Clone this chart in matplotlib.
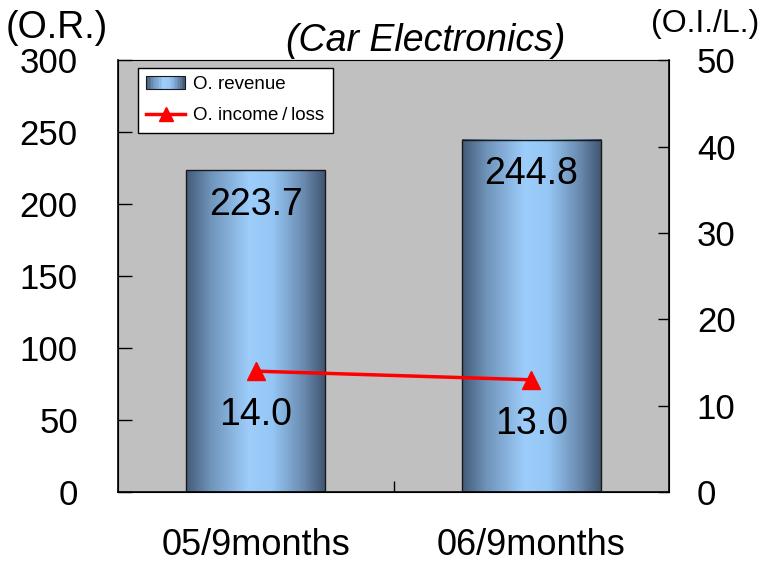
import matplotlib.pyplot as plt
import numpy as np
from matplotlib.colors import LinearSegmentedColormap
from matplotlib.patches import Rectangle
from matplotlib.lines import Line2D
from matplotlib.legend_handler import HandlerBase

# data
periods = ['05/9months', '06/9months']
revenue = [223.7, 244.8]
income = [14.0, 13.0]

plt.rcParams['font.family'] = ['Liberation Sans', 'DejaVu Sans']

# steel-blue shading used across each bar
shade = LinearSegmentedColormap.from_list('steel', [
    (0.0, '#435b78'), (0.18, '#7095bb'), (0.45, '#9dcdfb'),
    (0.62, '#95c6f4'), (0.85, '#6888ad'), (1.0, '#3f546f')])


class ShadedBarHandler(HandlerBase):
    def create_artists(self, legend, orig_handle, xdescent, ydescent,
                       width, height, fontsize, trans):
        n = 24
        arts = []
        for i in range(n):
            r = Rectangle((-xdescent + width * i / n, -ydescent), width / n + 0.3,
                          height, facecolor=shade((i + 0.5) / n), edgecolor='none',
                          transform=trans)
            arts.append(r)
        arts.append(Rectangle((-xdescent, -ydescent), width, height,
                              facecolor='none', edgecolor='#1a1a1a', lw=0.8,
                              transform=trans))
        return arts


fig = plt.figure(figsize=(7.62, 5.63), dpi=100)
ax = fig.add_axes([0.155, 0.126, 0.723, 0.767])
ax.set_facecolor('#c0c0c0')

x = np.arange(len(periods))
bars = ax.bar(x, revenue, width=0.505, facecolor='none', edgecolor='#1a1a1a',
              linewidth=1.0, zorder=3)
grad = np.linspace(0, 1, 256).reshape(1, -1)
for b in bars:
    x0, y0 = b.get_x(), b.get_y()
    ax.imshow(grad, cmap=shade, aspect='auto', zorder=2,
              extent=[x0, x0 + b.get_width(), y0, y0 + b.get_height()])

ax.set_xlim(-0.5, 1.5)
ax.set_ylim(0, 300)
ax.set_yticks(range(0, 301, 50))
ax.set_xticks(x)
ax.set_xticklabels(periods, fontsize=26)
ax.set_xticks([0.5], minor=True)
ax.tick_params(axis='x', which='major', length=0, pad=26)
ax.tick_params(axis='x', which='minor', direction='in', length=8, width=1)
ax.tick_params(axis='y', direction='in', length=10, width=1, labelsize=25, pad=29)
for lbl in ax.get_yticklabels():
    lbl.set_horizontalalignment('right')
ax.spines['top'].set_color('#a0a0a0')
for s in ['left', 'bottom', 'right']:
    ax.spines[s].set_linewidth(1.2)

for xi, v in zip(x, revenue):
    ax.annotate(f'{v:.1f}', (xi, v), xytext=(0, -25), textcoords='offset points',
                ha='center', va='center', fontsize=27, zorder=5)

ax2 = ax.twinx()
ax2.set_ylim(0, 50)
ax2.set_yticks(range(0, 51, 10))
ax2.tick_params(axis='y', direction='in', length=8, width=1, labelsize=25, pad=20)
ax2.plot(x, income, color='#ff0000', linewidth=2.5, marker='^', markersize=13,
         zorder=4)
for xi, v in zip(x, income):
    ax2.annotate(f'{v:.1f}', (xi, v), xytext=(0, -31.5), textcoords='offset points',
                 ha='center', va='center', fontsize=27)

fig.text(0.007, 0.95, '(O.R.)', ha='left', va='center', fontsize=27)
fig.text(0.997, 0.958, '(O.I./L.)', ha='right', va='center', fontsize=23)
fig.text(0.558, 0.9275, '(Car Electronics)', ha='center', va='center',
         fontsize=27, style='italic')

# legend: shaded bar swatch and the income line
h_bar = Rectangle((0, 0), 1, 1)
h_line = Line2D([], [], color='#ff0000', linewidth=2.5, marker='^', markersize=10)
leg = ax2.legend([h_bar, h_line], ['O. revenue', 'O. income\u2009/\u2009loss'],
                 handler_map={Rectangle: ShadedBarHandler()},
                 loc='upper left', bbox_to_anchor=(0.036, 0.983), fontsize=13.5,
                 frameon=True, fancybox=False, edgecolor='black',
                 framealpha=1, handlelength=2.05, handletextpad=0.45,
                 borderpad=0.45, borderaxespad=0, labelspacing=0.75)
leg.get_frame().set_linewidth(1.0)

fig.savefig('out.png', dpi=100)
